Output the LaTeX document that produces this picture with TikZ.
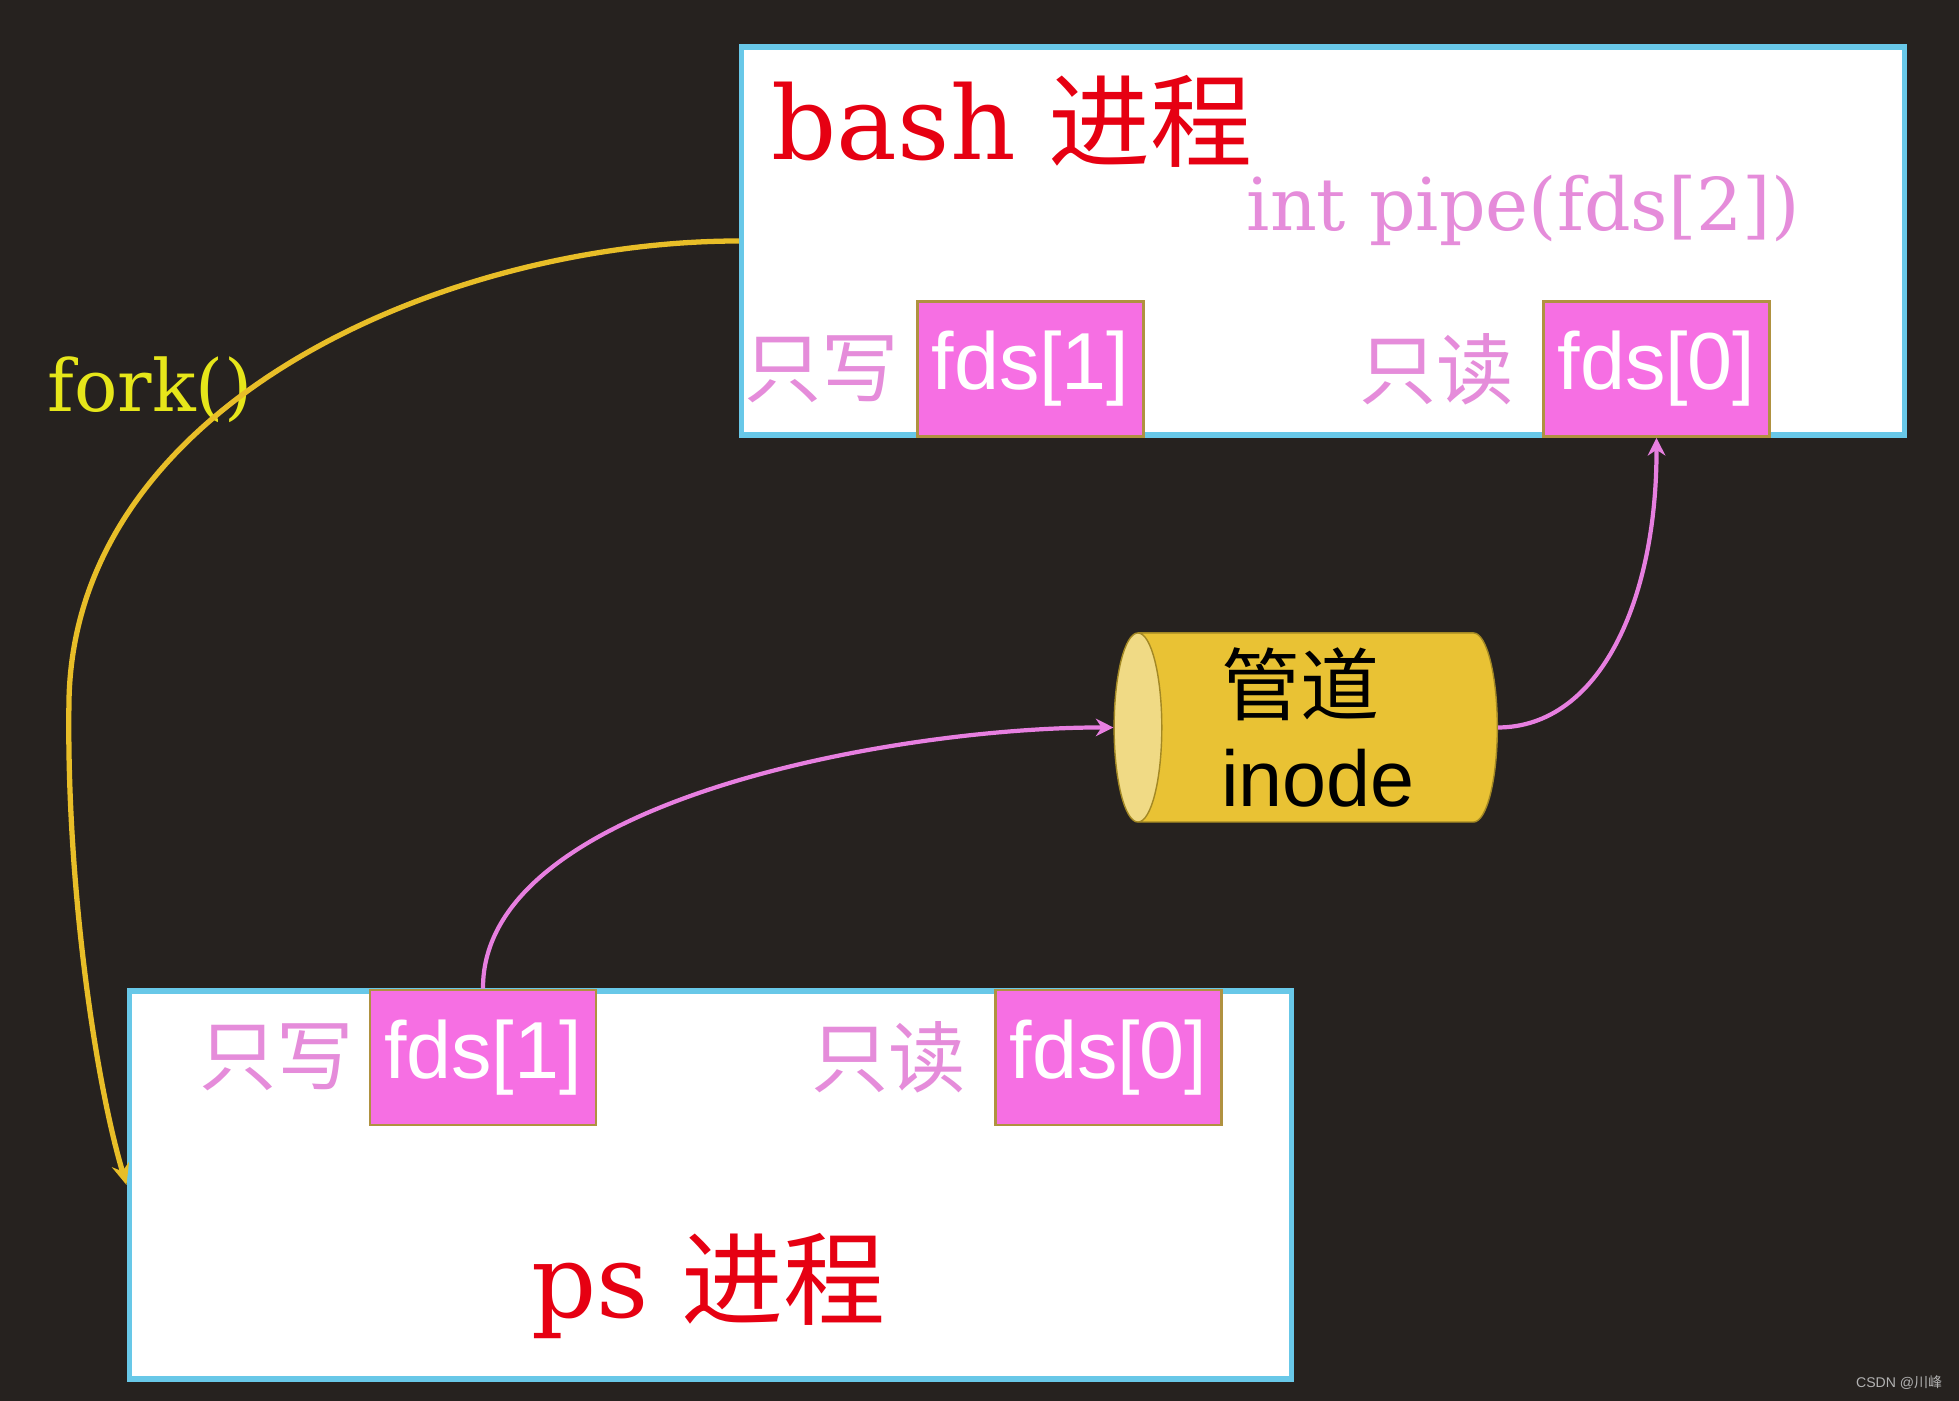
\documentclass[tikz,border=0pt]{standalone}
\usepackage{fontspec}
\setmainfont{DejaVu Serif}
\setsansfont{Liberation Sans}
\newfontfamily\cjk{Noto Sans CJK SC}
\usetikzlibrary{shapes.geometric,arrows.meta,positioning,calc}

\definecolor{bgdark}{RGB}{38,34,31}
\definecolor{boxedge}{RGB}{104,200,232}
\definecolor{procred}{RGB}{230,0,18}
\definecolor{lightpink}{RGB}{229,140,218}
\definecolor{fdpink}{RGB}{246,111,227}
\definecolor{fdedge}{RGB}{176,146,64}
\definecolor{pipegold}{RGB}{233,194,52}
\definecolor{pipeend}{RGB}{240,218,133}
\definecolor{forkgold}{RGB}{232,190,40}
\definecolor{forkyellow}{RGB}{230,230,26}
\definecolor{linkpink}{RGB}{231,127,224}

\begin{document}
\begin{tikzpicture}
  [
    x=0.01cm, y=-0.01cm,
    procbox/.style =
      {draw=boxedge, line width=1.5pt, fill=white, rectangle,
       minimum width=11.62cm, minimum height=3.88cm, inner sep=0pt},
    fdbox/.style =
      {draw=fdedge, line width=0.8pt, fill=fdpink, rectangle,
       minimum width=2.26cm, minimum height=1.35cm, inner sep=0pt,
       text=white, font=\sffamily\fontsize{23}{27}\selectfont},
    rwlabel/.style =
      {text=lightpink, inner sep=0pt, font=\cjk\fontsize{22}{26}\selectfont},
    proctitle/.style =
      {text=procred, anchor=base west, inner sep=0pt,
       font=\fontsize{29}{34}\selectfont},
    pipenode/.style =
      {cylinder, shape border rotate=180, draw=pipegold!70!black,
       cylinder uses custom fill, cylinder body fill=pipegold,
       cylinder end fill=pipeend, aspect=0.3, inner sep=0pt,
       minimum width=1.89cm, minimum height=3.83cm, align=left,
       font=\sffamily\fontsize{22.5}{26}\selectfont},
    forkarrow/.style =
      {draw=forkgold, line width=1.5pt, -{Stealth[length=6pt,width=5pt]}},
    pipearrow/.style =
      {draw=linkpink, line width=1.2pt, -{Stealth[length=5pt,width=5pt]}}
  ]

\fill[bgdark] (0,0) rectangle (1959,1401);

% processes
\node[procbox] (bash) at (1323,241) {};
\node[procbox] (ps) at (710.5,1185) {};

\node[proctitle] (bashname) at (771,160) {bash {\cjk 进程}};
\node[anchor=base west, text=lightpink, inner sep=0pt,
      font=\fontsize{20.7}{25}\selectfont] (pipecall) at (1246,231) {int pipe(fds[2])};
\node[proctitle] (psname) at (531,1318) {ps {\cjk 进程}};

% file descriptors
\node[fdbox] (bw1) at (1030.5,369) {fds[1]};
\node[fdbox] (br0) at (1656.5,369) {fds[0]};
\node[fdbox] (pw1) at (483,1057.5) {fds[1]};
\node[fdbox] (pr0) at (1108.5,1057.5) {fds[0]};

\node[rwlabel, left=0.16cm of bw1] (bwl) {只写};
\node[rwlabel, left=0.27cm of br0] (brl) {只读};
\node[rwlabel, left=0.14cm of pw1] (pwl) {只写};
\node[rwlabel, left=0.27cm of pr0] (prl) {只读};

% pipe
\node[pipenode] (pipe) at (1318,727.5) {{\cjk 管道}\\inode};

% fork
\node[anchor=base west, text=forkyellow, inner sep=0pt,
      font=\fontsize{20.5}{25}\selectfont] (forklabel) at (47,412) {fork()};
\draw[forkarrow] (bash.west) .. controls (450,241) and (75,400) .. (69,700)
  .. controls (66,880) and (95,1080) .. (ps.west);

% data flow
\draw[pipearrow] (pw1.north) .. controls (482,800) and (900,727) .. (pipe.west);
\draw[pipearrow] (pipe.east) .. controls (1600,727) and (1657,600) .. (br0.south);

\node[anchor=base east, text=gray!60, inner sep=0pt,
      font=\sffamily\fontsize{4}{5}\selectfont] (mark) at (1943,1388) {CSDN @{\cjk 川峰}};

\end{tikzpicture}
\end{document}
